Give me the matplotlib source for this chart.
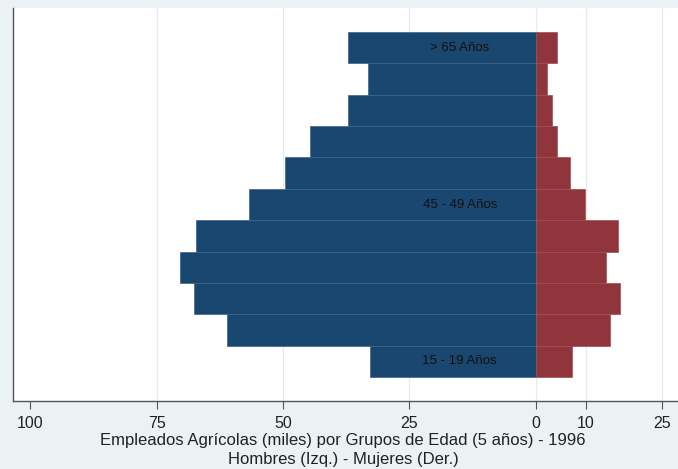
import matplotlib
matplotlib.use("Agg")
import matplotlib.pyplot as plt
import numpy as np

# Age groups (bottom to top)
age_groups = ["15 - 19 Años", "20 - 24 Años", "25 - 29 Años", "30 - 34 Años",
              "35 - 39 Años", "40 - 44 Años", "45 - 49 Años", "50 - 54 Años",
              "55 - 59 Años", "60 - 64 Años", "> 65 Años"]
# Employed (thousands), bottom to top
hombres = [32.8, 61.0, 67.6, 70.4, 67.3, 56.7, 49.7, 44.6, 37.1, 33.1, 37.2]
mujeres = [7.2, 14.7, 16.7, 13.9, 16.3, 9.8, 6.8, 4.3, 3.3, 2.2, 4.2]

# Labels shown on the bars (index into bars, bottom to top)
label_idx = [0, 5, 10]
label_txt = ["15 - 19 Años", "45 - 49 Años", "> 65 Años"]

tick_vals = [-100, -75, -50, -25, 0, 10, 25]
tick_lbls = ["100", "75", "50", "25", "0", "10", "25"]

title_line1 = "Empleados Agrícolas (miles) por Grupos de Edad (5 años) - 1996"
title_line2 = "Hombres (Izq.) - Mujeres (Der.)"

plt.rcParams['font.family'] = ['Liberation Sans', 'DejaVu Sans']

W, H = 678, 469
fig = plt.figure(figsize=(W / 100, H / 100), dpi=100)
fig.patch.set_facecolor('#eaf2f3')
ax = fig.add_axes([13.3 / W, 1 - 401 / H, 1 - 13.3 / W, (401 - 8) / H])
ax.set_facecolor('white')

pos = np.arange(1, len(age_groups) + 1)
blue = '#1a476f'
red = '#90353b'
ax.barh(pos, -np.array(hombres), height=1.0, color=blue, edgecolor='#3c6486', linewidth=0.5, zorder=2)
ax.barh(pos, mujeres, height=1.0, color=red, edgecolor='#9e4d53', linewidth=0.5, zorder=2)

for i, t in zip(label_idx, label_txt):
    ax.text(-15, pos[i], t, ha='center', va='center', fontsize=9.5, color='#111111', zorder=3)

ax.set_xlim(-103.4, 28.2)
ax.set_ylim(-0.27, 12.27)
ax.set_xticks(tick_vals)
ax.set_xticklabels(tick_lbls, fontsize=11.5, color='#222222')
ax.set_yticks([])
for v in tick_vals[1:]:
    ax.axvline(v, color='#e3ebee', linewidth=0.8, zorder=1)

ax.tick_params(axis='x', length=5.8, width=0.8, color='#555555', pad=5)
for s in ['top', 'right']:
    ax.spines[s].set_visible(False)
for s in ['left', 'bottom']:
    ax.spines[s].set_color('#555555')
    ax.spines[s].set_linewidth(1.0)

fig.text(343 / W, 1 - 444.5 / H, title_line1, ha='center', va='baseline',
         fontsize=12, color='#222222')
fig.text(343 / W, 1 - 464 / H, title_line2, ha='center', va='baseline',
         fontsize=12, color='#222222')

fig.savefig("out.png", dpi=100, facecolor=fig.get_facecolor())
